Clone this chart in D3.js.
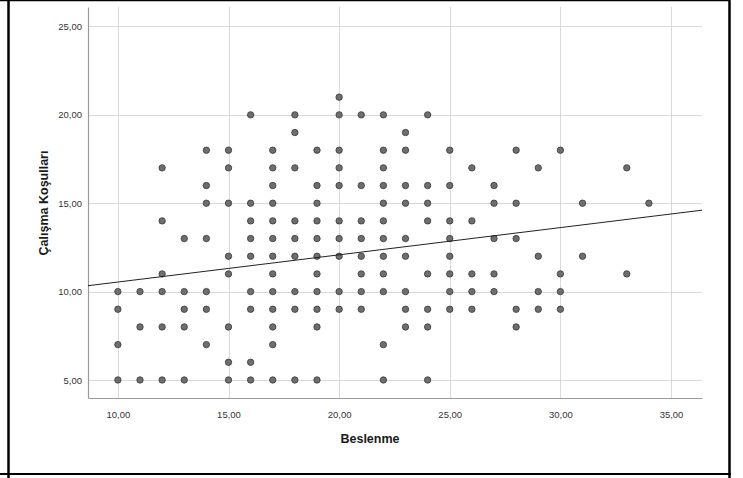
<!DOCTYPE html>
<html>
<head>
<meta charset="utf-8">
<script src="https://cdn.jsdelivr.net/npm/d3@7"></script>
<style>
  body { margin: 0; background: #fff; }
  svg { display: block; }
</style>
</head>
<body>
<svg id="chart" width="743" height="478"></svg>
<script>
// Beslenme values (x) and the Çalışma Koşulları values (y) seen at each one
const beslenmeValues = [10, 11, 12, 13, 14, 15, 16, 17, 18, 19, 20, 21, 22, 23, 24, 25, 26, 27, 28, 29, 30, 31, 33, 34]
const calismaByBeslenme = [
  [10, 9, 7, 5],
  [10, 8, 5],
  [17, 14, 11, 10, 8, 5],
  [13, 10, 9, 8, 5],
  [18, 16, 15, 13, 10, 9, 7],
  [18, 17, 15, 12, 11, 8, 6, 5],
  [20, 15, 14, 13, 12, 10, 9, 6, 5],
  [18, 17, 16, 15, 14, 13, 12, 11, 10, 9, 8, 7, 5],
  [20, 19, 17, 14, 13, 12, 10, 9, 5],
  [18, 16, 15, 14, 13, 12, 11, 10, 9, 8, 5],
  [21, 20, 18, 17, 16, 14, 13, 12, 10, 9],
  [20, 16, 14, 13, 12, 11, 10, 9],
  [20, 18, 17, 16, 15, 14, 13, 12, 11, 10, 7, 5],
  [19, 18, 16, 15, 13, 12, 10, 9, 8],
  [20, 16, 15, 14, 11, 9, 8, 5],
  [18, 16, 14, 13, 12, 11, 10, 9],
  [17, 14, 11, 10, 9],
  [16, 15, 13, 11, 10],
  [18, 15, 13, 9, 8],
  [17, 12, 10, 9],
  [18, 11, 10, 9],
  [15, 12],
  [17, 11],
  [15]
]
const xTicks = [10, 15, 20, 25, 30, 35]
const yTicks = [5, 10, 15, 20, 25]
const fitIntercept = 9.0
const fitSlope = 0.154

const points = beslenmeValues.flatMap((b, i) =>
  calismaByBeslenme[i].map(c => ({ x: b, y: c })))

const svg = d3.select('#chart')
const fmt = v => d3.format('.2f')(v).replace('.', ',')

const plotLeft = 88
const plotRight = 702
const plotTop = 7
const plotBottom = 398

const x = d3.scaleLinear().domain([8.65, 36.4]).range([plotLeft, plotRight])
const y = d3.scaleLinear().domain([3.98, 26.1]).range([plotBottom, plotTop])

// outer frame
const frame = svg.append('g').attr('stroke', '#000').attr('fill', 'none')
frame.append('line').attr('x1', 8.5).attr('x2', 8.5).attr('y1', 0).attr('y2', 478).attr('stroke-width', 2.5)
frame.append('line').attr('x1', 0).attr('x2', 730).attr('y1', 0.5).attr('y2', 0.5).attr('stroke-width', 1.5)
frame.append('line').attr('x1', 729.5).attr('x2', 729.5).attr('y1', 0).attr('y2', 478).attr('stroke-width', 2.5)
frame.append('line').attr('x1', 0).attr('x2', 731).attr('y1', 474).attr('y2', 474).attr('stroke-width', 2)

// grid
const grid = svg.append('g').attr('stroke', '#d9d9d9').attr('stroke-width', 1)
grid.selectAll('.gx').data(xTicks).join('line')
  .attr('x1', d => Math.round(x(d)) + 0.5).attr('x2', d => Math.round(x(d)) + 0.5)
  .attr('y1', plotTop).attr('y2', plotBottom)
grid.selectAll('.gy').data(yTicks).join('line')
  .attr('x1', plotLeft).attr('x2', plotRight)
  .attr('y1', d => Math.round(y(d)) + 0.5).attr('y2', d => Math.round(y(d)) + 0.5)

// axes
const xAxis = svg.append('g')
  .attr('transform', `translate(0,${plotBottom})`)
  .call(d3.axisBottom(x).tickValues(xTicks).tickFormat(fmt).tickSize(0).tickPadding(13))
const yAxis = svg.append('g')
  .attr('transform', `translate(${plotLeft},0)`)
  .call(d3.axisLeft(y).tickValues(yTicks).tickFormat(fmt).tickSize(0).tickPadding(6))

;[xAxis, yAxis].forEach(a => {
  a.select('.domain').attr('stroke', '#9a9a9a').attr('stroke-width', 1.2)
  a.selectAll('text')
    .attr('font-family', 'Liberation Sans, Arial, sans-serif')
    .attr('font-size', '9.5px')
    .attr('fill', '#333')
})

// points
svg.append('g').selectAll('circle').data(points).join('circle')
  .attr('cx', d => x(d.x))
  .attr('cy', d => y(d.y))
  .attr('r', 3.2)
  .attr('fill', '#6e6e6e')
  .attr('stroke', '#3a3a3a')
  .attr('stroke-width', 0.8)

// fit line
const xd = x.domain()
svg.append('line')
  .attr('x1', x(xd[0])).attr('y1', y(fitIntercept + fitSlope * xd[0]))
  .attr('x2', x(xd[1])).attr('y2', y(fitIntercept + fitSlope * xd[1]))
  .attr('stroke', '#222')
  .attr('stroke-width', 1)

// axis titles
svg.append('text')
  .attr('x', 370).attr('y', 443)
  .attr('text-anchor', 'middle')
  .attr('font-family', 'Liberation Sans, Arial, sans-serif')
  .attr('font-size', '12.5px')
  .attr('font-weight', 'bold')
  .attr('fill', '#1a1a1a')
  .text('Beslenme')

svg.append('text')
  .attr('transform', 'translate(48,203) rotate(-90)')
  .attr('text-anchor', 'middle')
  .attr('font-family', 'Liberation Sans, Arial, sans-serif')
  .attr('font-size', '12.5px')
  .attr('font-weight', 'bold')
  .attr('fill', '#1a1a1a')
  .text('Çalışma Koşulları')
</script>
</body>
</html>
